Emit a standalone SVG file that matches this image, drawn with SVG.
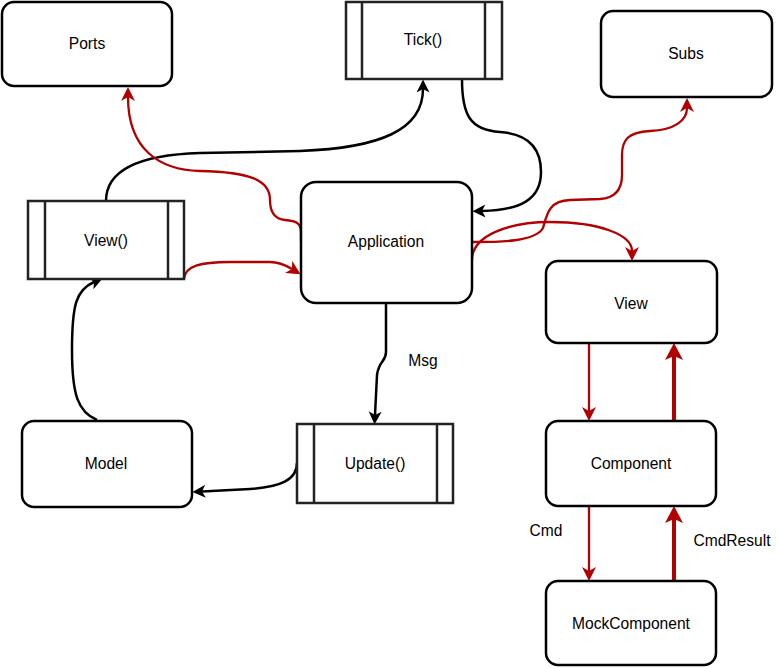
<svg xmlns="http://www.w3.org/2000/svg" width="777" height="668" viewBox="0 0 777 668">
<style>
.box{fill:#fff;stroke:#000;stroke-width:2.5}
.proc{fill:#fff;stroke:#222;stroke-width:2.5}
.lbl{font-family:"Liberation Sans",Arial,sans-serif;font-size:15.6px;fill:#000;text-anchor:middle}
.blk{fill:none;stroke:#000;stroke-width:2.5;marker-end:url(#ab)}
.red{fill:none;stroke:#B20000;stroke-width:2.3;marker-end:url(#ar)}
.redt{fill:none;stroke:#B20000;stroke-width:4;marker-end:url(#art)}
</style>
<defs>
<marker id="ab" markerUnits="userSpaceOnUse" markerWidth="14" markerHeight="14" refX="3.5" refY="6.5" orient="auto"><path d="M0,0 L13,6.5 L0,13 L3.5,6.5 Z" fill="#000"/></marker>
<marker id="ar" markerUnits="userSpaceOnUse" markerWidth="15" markerHeight="15" refX="4" refY="7" orient="auto"><path d="M0,0 L14,7 L0,14 L4,7 Z" fill="#B20000"/></marker>
<marker id="art" markerUnits="userSpaceOnUse" markerWidth="18" markerHeight="19" refX="4" refY="9" orient="auto"><path d="M0,0 L17,9 L0,18 L4,9 Z" fill="#B20000"/></marker>
</defs>
<g id="connectors">
<path class="blk" d="M106,201 C106,172 135,155 200,153 L300,151 C380,148 423,130 423,89"/>
<path class="blk" d="M462,79 C462,115 470,130 500,132 C530,134 541,150 541,172 C541,200 520,210 482,211"/>
<path class="red" d="M301,242 L301,232 C301,223 296,221 285,220 C274,219 270,212 270,200 C270,180 250,172 200,171 C160,170 128,150 128,97"/>
<path class="red" d="M184,279 C185,266 200,262 230,262 L270,262 C280,262 287,266 292,269"/>
<path class="red" d="M472,242 C500,242 535,242 543,228 C547,215 548,201 570,200 L600,199 C615,198 622,190 622,175 L622,155 C622,140 628,132 650,131 C675,130 687,120 687,108"/>
<path class="red" d="M472,260 C472,235 510,222 550,222 C600,222 632,235 632,251"/>
<path class="blk" d="M386,303 L386,352 C386,362 379,360 377,375 L375,415"/>
<path class="blk" d="M297,463 C297,480 280,487 250,489 L202,491.5"/>
<path class="blk" d="M97,420 C78,412 72,395 72,350 C72,305 76,290 94,282"/>
<path class="red" d="M589,343 L589,411"/>
<path class="redt" d="M674,421 L674,356"/>
<path class="red" d="M589,506 L589,571"/>
<path class="redt" d="M674,581 L674,519"/>
<text class="lbl" x="423" y="366">Msg</text>
<text class="lbl" x="546" y="536">Cmd</text>
<text class="lbl" x="732" y="546">CmdResult</text>
</g>
<g id="ports"><rect class="box" x="2" y="2" width="170" height="84" rx="12"/><text class="lbl" x="87" y="49">Ports</text></g>
<g id="tick"><rect class="proc" x="346" y="2" width="156" height="77"/><line class="proc" x1="362" y1="2" x2="362" y2="79"/><line class="proc" x1="485" y1="2" x2="485" y2="79"/><text class="lbl" x="423" y="45">Tick()</text></g>
<g id="subs"><rect class="box" x="601" y="11" width="171" height="86" rx="12"/><text class="lbl" x="686" y="59">Subs</text></g>
<g id="viewfn"><rect class="proc" x="28" y="201" width="156" height="78"/><line class="proc" x1="45" y1="201" x2="45" y2="279"/><line class="proc" x1="168" y1="201" x2="168" y2="279"/><text class="lbl" x="106" y="246">View()</text></g>
<g id="application"><rect class="box" x="301" y="182" width="171" height="121" rx="15"/><text class="lbl" x="386" y="247">Application</text></g>
<g id="view"><rect class="box" x="546" y="261" width="171" height="82" rx="12"/><text class="lbl" x="631" y="309">View</text></g>
<g id="model"><rect class="box" x="22" y="421" width="170" height="86" rx="12"/><text class="lbl" x="106" y="469">Model</text></g>
<g id="update"><rect class="proc" x="297" y="424" width="156" height="79"/><line class="proc" x1="314" y1="424" x2="314" y2="503"/><line class="proc" x1="437" y1="424" x2="437" y2="503"/><text class="lbl" x="375" y="469">Update()</text></g>
<g id="component"><rect class="box" x="546" y="421" width="170" height="85" rx="12"/><text class="lbl" x="631" y="469">Component</text></g>
<g id="mockcomponent"><rect class="box" x="546" y="581" width="170" height="84" rx="12"/><text class="lbl" x="631" y="629">MockComponent</text></g>
</svg>
